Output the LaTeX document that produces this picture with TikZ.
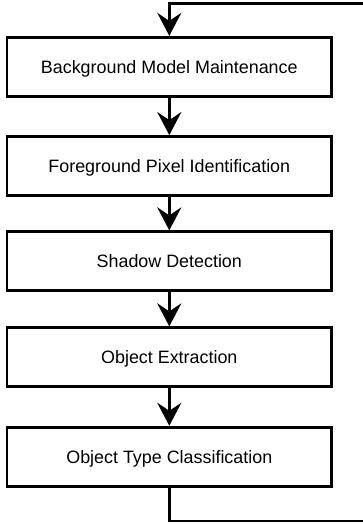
\documentclass[tikz,border=0pt]{standalone}
\usepackage{fontspec}
\setmainfont{Liberation Sans}
\usetikzlibrary{arrows.meta}
\begin{document}
\begin{tikzpicture}[x=1pt,y=-1pt,
  stagebox/.style={draw=black, line width=2.8pt, fill=white, minimum width=324.5pt, minimum height=59pt,
    inner sep=0pt, font=\fontsize{17.9}{20}\selectfont, text height=12.8pt, text depth=0pt},
  flow/.style={line width=2.8pt, line join=miter, -{Stealth[length=23pt,width=24pt,inset=8pt]}}]
\useasboundingbox (0,0) rectangle (363,525);
\node[stagebox] (b1) at (169.3,66.8) {Background Model Maintenance};
\node[stagebox] (b2) at (169.3,166) {Foreground Pixel Identification};
\node[stagebox] (b3) at (169.3,261.3) {Shadow Detection};
\node[stagebox] (b4) at (169.3,357.3) {Object Extraction};
\node[stagebox] (b5) at (169.3,456.7) {Object Type Classification};
\draw[flow] (b1) -- (b2);
\draw[flow] (b2) -- (b3);
\draw[flow] (b3) -- (b4);
\draw[flow] (b4) -- (b5);
\coordinate (l1) at (169.3,521);
\coordinate (l2) at (372,521);
\coordinate (l3) at (372,3.6);
\coordinate (l4) at (169.3,3.6);
\draw[flow] (b5.south) -- (l1) -- (l2) -- (l3) -- (l4) -- (b1.north);
\end{tikzpicture}
\end{document}
